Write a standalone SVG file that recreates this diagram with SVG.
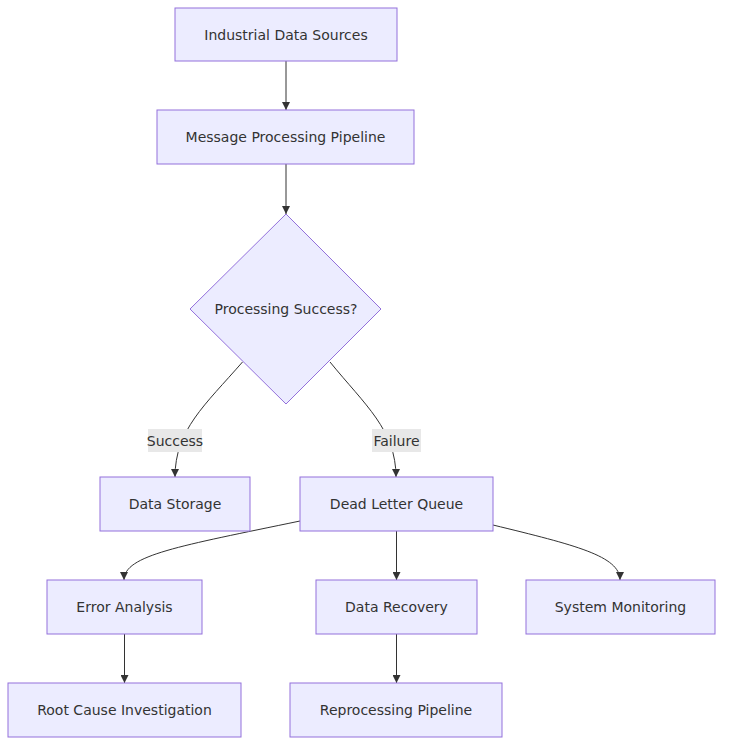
<svg xmlns="http://www.w3.org/2000/svg" width="731" height="753" viewBox="0 0 731 753">
<style>
.node rect,.node polygon{fill:#ECECFF;stroke:#9370DB;stroke-width:1}
text{font-family:"DejaVu Sans","Liberation Sans",sans-serif;font-size:14px;fill:#333;text-anchor:middle;dominant-baseline:central}
.edge{fill:none;stroke:#333;stroke-width:1;marker-end:url(#arr)}
.lbl rect{fill:#e8e8e8;stroke:none}
</style>
<defs>
<marker id="arr" viewBox="0 0 10 10" refX="10" refY="5" markerWidth="8" markerHeight="8" markerUnits="userSpaceOnUse" orient="auto">
<path d="M0,0 L10,5 L0,10 z" fill="#333"/>
</marker>
</defs>
<rect width="731" height="753" fill="#fff"/>
<g id="connectors">
<path class="edge" d="M286,61 L286,110"/>
<path class="edge" d="M286,164 L286,214"/>
<path class="edge" d="M242.5,362 C205,405 175,430 175,477"/>
<path class="edge" d="M330,362 C365,405 396,430 396,477"/>
<path class="edge" d="M300,521 C180,546 124,555 124,580"/>
<path class="edge" d="M396.5,531 L396.5,580"/>
<path class="edge" d="M493,525 C575,545 620,556 620,580"/>
<path class="edge" d="M124.5,634 L124.5,683"/>
<path class="edge" d="M396.5,634 L396.5,683"/>
<g class="lbl"><rect x="148" y="429" width="54" height="23"/><text x="175" y="440.5">Success</text></g>
<g class="lbl"><rect x="372" y="429" width="49" height="23"/><text x="396.5" y="440.5">Failure</text></g>
</g>
<g id="n1" class="node"><rect x="175" y="8" width="222" height="53"/><text x="286" y="34.5">Industrial Data Sources</text></g>
<g id="n2" class="node"><rect x="157" y="110" width="257" height="54"/><text x="285.5" y="137">Message Processing Pipeline</text></g>
<g id="n3" class="node"><polygon points="286,214 381,309 286,404 190,309"/><text x="286" y="309">Processing Success?</text></g>
<g id="n4" class="node"><rect x="100" y="477" width="150" height="54"/><text x="175" y="504">Data Storage</text></g>
<g id="n5" class="node"><rect x="300" y="477" width="193" height="54"/><text x="396.5" y="504">Dead Letter Queue</text></g>
<g id="n6" class="node"><rect x="47" y="580" width="155" height="54"/><text x="124.5" y="607">Error Analysis</text></g>
<g id="n7" class="node"><rect x="316" y="580" width="161" height="54"/><text x="396.5" y="607">Data Recovery</text></g>
<g id="n8" class="node"><rect x="526" y="580" width="189" height="54"/><text x="620.5" y="607">System Monitoring</text></g>
<g id="n9" class="node"><rect x="8" y="683" width="233" height="54"/><text x="124.5" y="710">Root Cause Investigation</text></g>
<g id="n10" class="node"><rect x="290" y="683" width="212" height="54"/><text x="396" y="710">Reprocessing Pipeline</text></g>
</svg>
